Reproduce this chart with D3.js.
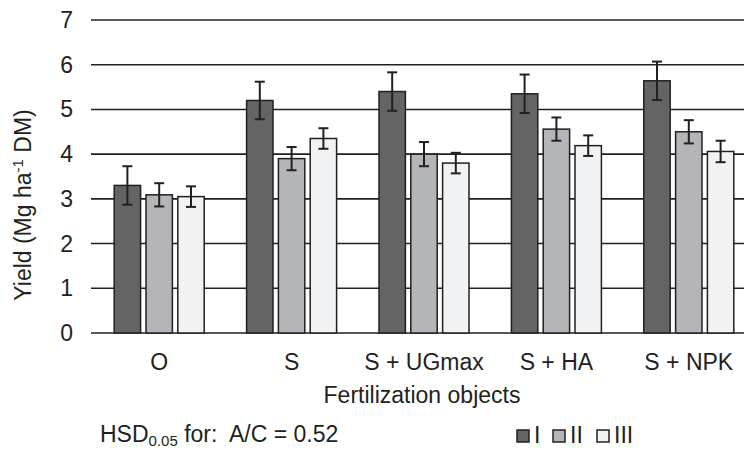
<!DOCTYPE html>
<html>
<head>
<meta charset="utf-8">
<script src="https://cdn.jsdelivr.net/npm/d3@7"></script>
<style>
body{margin:0;background:#fff}
text{font-family:"Liberation Sans",Arial,sans-serif;fill:#231f20;white-space:pre}
</style>
</head>
<body>
<div id="chart"></div>
<script>
var categories = ['O','S','S + UGmax','S + HA','S + NPK']
var seriesNames = ['I','II','III']
var colors = ['#646464','#b4b5b8','#f1f2f4']
var valuesI = [3.30,5.20,5.40,5.35,5.64]
var valuesII = [3.09,3.90,4.00,4.56,4.50]
var valuesIII = [3.05,4.35,3.80,4.19,4.06]
var errI = [0.43,0.42,0.43,0.43,0.43]
var errII = [0.26,0.26,0.27,0.26,0.26]
var errIII = [0.23,0.23,0.23,0.23,0.24]
var yTicks = [0,1,2,3,4,5,6,7]

var values = [valuesI,valuesII,valuesIII]
var errs = [errI,errII,errIII]
var W = 744, H = 450
var fs = '23px', fsSmall = '15px'

var svg = d3.select('#chart').append('svg')
	.attr('width', W)
	.attr('height', H)

var x = d3.scaleBand().domain(categories).range([93,755]).paddingInner(0).paddingOuter(0)
var xs = d3.scaleBand().domain(seriesNames).range([-45,45]).paddingInner(0.17)
var y = d3.scaleLinear().domain([0,7]).range([333,20])

// grid
svg.append('g').selectAll('line').data(yTicks).join('line')
	.attr('x1', 91).attr('x2', W)
	.attr('y1', d=>y(d)).attr('y2', d=>y(d))
	.style('stroke', '#231f20').style('stroke-width', 1.6)

svg.append('g').selectAll('text').data(yTicks).join('text')
	.attr('x', 73).attr('y', d=>y(d)+8)
	.attr('text-anchor','end')
	.style('font-size',fs)
	.text(d=>d)

// bars
var groups = svg.append('g').selectAll('g').data(categories).join('g')
	.attr('transform', d=>'translate('+(x(d)+x.bandwidth()/2)+',0)')

seriesNames.forEach(function(s, si){
	groups.append('rect')
		.attr('x', xs(s))
		.attr('width', xs.bandwidth())
		.attr('y', (d,i)=>y(values[si][i]))
		.attr('height', (d,i)=>y(0)-y(values[si][i]))
		.style('fill', colors[si])
		.style('stroke', '#231f20').style('stroke-width', 1.5)
	var cx = xs(s)+xs.bandwidth()/2
	groups.append('line')
		.attr('x1', cx).attr('x2', cx)
		.attr('y1', (d,i)=>y(values[si][i]+errs[si][i]))
		.attr('y2', (d,i)=>y(values[si][i]-errs[si][i]))
		.style('stroke', '#231f20').style('stroke-width', 2)
	;[1,-1].forEach(function(sign){
		groups.append('line')
			.attr('x1', cx-5).attr('x2', cx+5)
			.attr('y1', (d,i)=>y(values[si][i]+sign*errs[si][i]))
			.attr('y2', (d,i)=>y(values[si][i]+sign*errs[si][i]))
			.style('stroke', '#231f20').style('stroke-width', 2)
	})
})

// category labels
svg.append('g').selectAll('text').data(categories).join('text')
	.attr('x', d=>x(d)+x.bandwidth()/2)
	.attr('y', 370)
	.attr('text-anchor','middle')
	.style('font-size',fs)
	.text(d=>d)

svg.append('text')
	.attr('x', 422).attr('y', 403)
	.attr('text-anchor','middle')
	.style('font-size',fs)
	.text('Fertilization objects')

var yl = svg.append('text')
	.attr('transform','translate(31,205) rotate(-90)')
	.attr('text-anchor','middle')
	.style('font-size',fs)
yl.append('tspan').text('Yield (Mg ha')
yl.append('tspan').attr('dy',-8).style('font-size',fsSmall).text('-1')
yl.append('tspan').attr('dy',8).text(' DM)')

var hsd = svg.append('text')
	.attr('x', 100).attr('y', 442)
	.style('font-size',fs)
hsd.append('tspan').text('HSD')
hsd.append('tspan').attr('dy',4).style('font-size',fsSmall).text('0.05')
hsd.append('tspan').attr('dy',-4).text(' for:  A/C = 0.52')

// legend
var legX = [517,553,597]
var leg = svg.append('g').selectAll('g').data(seriesNames).join('g')
	.attr('transform', (d,i)=>'translate('+legX[i]+',430)')
leg.append('rect')
	.attr('width', 12).attr('height', 12)
	.style('fill', (d,i)=>colors[i])
	.style('stroke', '#231f20').style('stroke-width', 1.5)
leg.append('text')
	.attr('x', 17).attr('y', 13)
	.style('font-size',fs)
	.text(d=>d)
</script>
</body>
</html>
